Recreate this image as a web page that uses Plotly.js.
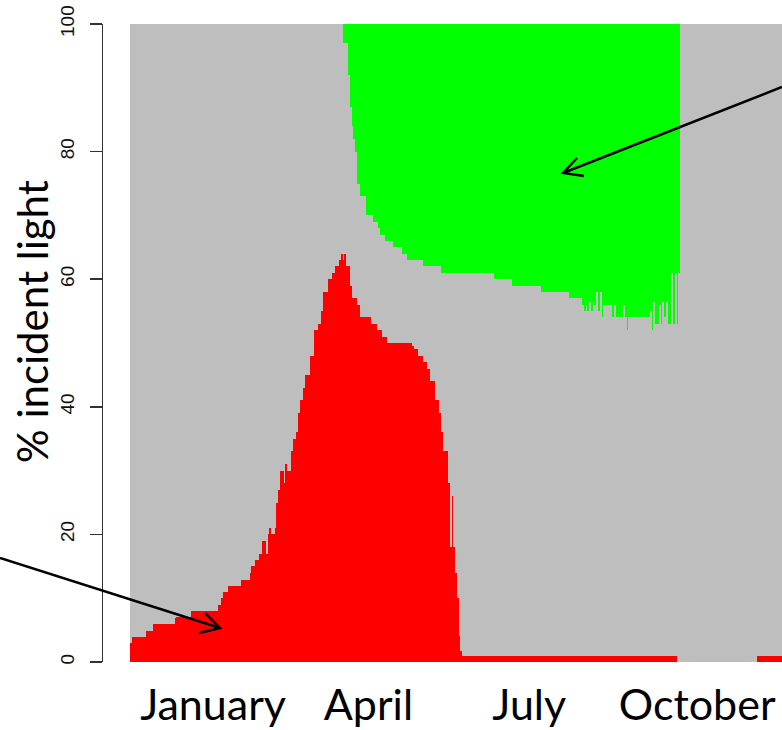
<!DOCTYPE html>
<html>
<head>
<meta charset="utf-8">
<script src="https://cdn.plot.ly/plotly-3.0.1.min.js"></script>
<style>
  html, body { margin: 0; padding: 0; background: #ffffff; }
  #chart { width: 782px; height: 730px; }
</style>
</head>
<body>
<div id="chart"></div>
<script>
// Day of year (1..365)
const days = Array.from({length: 365}, (_, i) => i + 1);

// % incident light absorbed by the lower (red) layer, per day
const redValues = [
  3, 3.9, 3.9, 3.9, 3.9, 3.9, 3.9, 3.9, 3.9, 4.8,
  4.8, 4.8, 4.8, 5.9, 5.9, 5.9, 5.9, 5.9, 5.9, 5.9,
  5.9, 5.9, 5.9, 5.9, 5.9, 6.9, 7, 7, 7, 7,
  7, 7, 7, 7, 8, 8, 8, 8, 8, 8,
  8, 8, 8, 8, 8, 8, 8, 8, 8, 8.9,
  8.9, 10, 11, 11, 11, 11.9, 11.9, 11.9, 11.9, 11.9,
  11.9, 11.9, 12.9, 12.9, 12.9, 12.9, 12.9, 14, 15, 15,
  16, 16, 17, 17, 19, 19, 17, 20, 21, 20,
  20, 21, 25, 27, 30, 30, 28, 31, 30, 30,
  33, 35, 35, 36, 39, 41, 41, 43, 45, 45,
  45, 48, 48, 52, 52, 53, 53, 55, 58, 58,
  58, 60, 60, 61, 61, 62, 62, 63, 64, 63,
  64, 62, 62, 59, 57, 57, 57, 56, 56, 54,
  54, 54, 54, 54, 54, 53, 53, 53, 52, 52,
  52, 51, 51, 51, 50, 50, 50, 50, 50, 50,
  50, 50, 50, 50, 50, 50, 50, 50, 49.5, 49,
  49, 48, 48, 48, 47, 47, 46, 46, 44, 44,
  44, 41, 41, 39, 36, 33, 33, 33, 28, 18,
  26, 18, 14, 10, 4, 1.8, 1, 1, 1, 1,
  1, 1, 1, 1, 1, 1, 1, 1, 1, 1,
  1, 1, 1, 1, 1, 1, 1, 1, 1, 1,
  1, 1, 1, 1, 1, 1, 1, 1, 1, 1,
  1, 1, 1, 1, 1, 1, 1, 1, 1, 1,
  1, 1, 1, 1, 1, 1, 1, 1, 1, 1,
  1, 1, 1, 1, 1, 1, 1, 1, 1, 1,
  1, 1, 1, 1, 1, 1, 1, 1, 1, 1,
  1, 1, 1, 1, 1, 1, 1, 1, 1, 1,
  1, 1, 1, 1, 1, 1, 1, 1, 1, 1,
  1, 1, 1, 1, 1, 1, 1, 1, 1, 1,
  1, 1, 1, 1, 1, 1, 1, 1, 1, 1,
  1, 1, 1, 1, 1, 1, 0, 0, 0, 0,
  0, 0, 0, 0, 0, 0, 0, 0, 0, 0,
  0, 0, 0, 0, 0, 0, 0, 0, 0, 0,
  0, 0, 0, 0, 0, 0, 0, 0, 0, 0,
  0, 0, 0, 0, 0, 0, 0, 0, 0, 0,
  0, 1, 1, 1, 1, 1, 1, 1, 1, 1,
  1, 1, 1, 1, 1
];

// % incident light absorbed by the upper (green) layer, per day
const greenValues = [
  0, 0, 0, 0, 0, 0, 0, 0, 0, 0,
  0, 0, 0, 0, 0, 0, 0, 0, 0, 0,
  0, 0, 0, 0, 0, 0, 0, 0, 0, 0,
  0, 0, 0, 0, 0, 0, 0, 0, 0, 0,
  0, 0, 0, 0, 0, 0, 0, 0, 0, 0,
  0, 0, 0, 0, 0, 0, 0, 0, 0, 0,
  0, 0, 0, 0, 0, 0, 0, 0, 0, 0,
  0, 0, 0, 0, 0, 0, 0, 0, 0, 0,
  0, 0, 0, 0, 0, 0, 0, 0, 0, 0,
  0, 0, 0, 0, 0, 0, 0, 0, 0, 0,
  0, 0, 0, 0, 0, 0, 0, 0, 0, 0,
  0, 0, 0, 0, 0, 0, 0, 0, 0, 3,
  3, 3, 8, 13, 16, 18, 20, 25, 25, 27,
  27, 27, 30, 30, 30, 30, 31, 31, 31, 32,
  33, 33, 33, 34, 34, 34, 34, 35, 35, 35,
  35, 35, 36, 36, 36, 37, 37, 37, 37, 37,
  37, 37, 37, 37, 38, 38, 38, 38, 38, 38,
  38, 38, 38, 38, 39, 39, 39, 39, 39, 39,
  39, 39, 39, 39, 39, 39, 39, 39, 39, 39,
  39, 39, 39, 39, 39, 39, 39, 39, 39, 39,
  39, 39, 39, 39, 40, 40, 40, 40, 40, 40,
  40, 40, 40, 40, 41, 41, 41, 41, 41, 41,
  41, 41, 41, 41, 41, 41, 41, 41, 41, 41,
  42, 42, 42, 42, 42, 42, 42, 42, 42, 42,
  42, 42, 42, 42, 42, 42, 43, 43, 43, 43,
  43, 43, 43, 44, 45, 44, 45, 43.5, 45, 43.5,
  44, 42, 45, 42, 46, 44, 44, 44, 44, 44,
  46, 44, 46, 46, 46, 46, 44, 46, 48, 46,
  46, 46, 46, 46, 46, 46, 46, 46, 46, 46,
  46, 45, 48, 43.5, 47, 47, 44, 47, 43.5, 46,
  43.5, 47, 47, 39, 47, 39, 47, 39, 0, 0,
  0, 0, 0, 0, 0, 0, 0, 0, 0, 0,
  0, 0, 0, 0, 0, 0, 0, 0, 0, 0,
  0, 0, 0, 0, 0, 0, 0, 0, 0, 0,
  0, 0, 0, 0, 0, 0, 0, 0, 0, 0,
  0, 0, 0, 0, 0, 0, 0, 0, 0, 0,
  0, 0, 0, 0, 0
];

// Month labels and their day positions on the axis
const monthLabels = ["January", "April", "July", "October"];
const monthDays = [47, 134, 224, 318];

// Y-axis ticks and title
const yTicks = [0, 20, 40, 60, 80, 100];
const yTitle = "% incident light";

// Remainder (grey): light passing through both layers
const greyValues = days.map((d, i) => 100 - redValues[i] - greenValues[i]);

const barStyle = (c) => ({ color: c, line: { width: 0 } });

const traces = [
  { type: "bar", x: days, y: redValues, marker: barStyle("#ff0000"), hoverinfo: "skip" },
  { type: "bar", x: days, y: greyValues, marker: barStyle("#bebebe"), hoverinfo: "skip" },
  { type: "bar", x: days, y: greenValues, marker: barStyle("#00ff00"), hoverinfo: "skip" }
];

// arrow paths in paper coordinates
const arrowPaths = [
  "M -0.1517 0.1630 L 0.1723 0.0533 M 0.1502 0.0768 L 0.1723 0.0533 L 0.1414 0.0455",
  "M 1.0 0.9013 L 0.6775 0.7665 M 0.6981 0.7900 L 0.6775 0.7665 L 0.7084 0.7618"
];

const layout = {
  width: 782,
  height: 730,
  margin: { l: 103, r: 0, t: 24, b: 68, pad: 0 },
  paper_bgcolor: "#ffffff",
  plot_bgcolor: "#ffffff",
  showlegend: false,
  barmode: "stack",
  bargap: 0,
  xaxis: {
    range: [-14.615, 365.5],
    showgrid: false,
    zeroline: false,
    showline: false,
    ticks: "",
    tickmode: "array",
    tickvals: monthDays,
    ticktext: monthLabels,
    tickfont: { family: "Lato, 'Open Sans', sans-serif", size: 43, color: "#000000" },
    ticklabelstandoff: 14,
    fixedrange: true
  },
  yaxis: {
    range: [0, 100],
    showgrid: false,
    zeroline: false,
    showline: true,
    linecolor: "#333333",
    linewidth: 1.5,
    ticks: "outside",
    ticklen: 12,
    tickwidth: 1.5,
    tickcolor: "#333333",
    tickmode: "array",
    tickvals: yTicks,
    tickangle: -90,
    tickfont: { family: "'Liberation Sans', Arial, sans-serif", size: 19, color: "#111111" },
    ticklabelstandoff: 8,
    fixedrange: true
  },
  annotations: [{
    text: yTitle,
    xref: "paper", yref: "paper",
    x: -0.1046, y: 0.5345,
    xanchor: "center", yanchor: "middle",
    textangle: -90,
    showarrow: false,
    font: { family: "Lato, 'Open Sans', sans-serif", size: 42, color: "#000000" }
  }],
  shapes: arrowPaths.map(p => ({
    type: "path", xref: "paper", yref: "paper", path: p,
    line: { color: "#000000", width: 2.5 }, layer: "above"
  }))
};

Plotly.newPlot("chart", traces, layout, { displayModeBar: false, staticPlot: true });
</script>
</body>
</html>
